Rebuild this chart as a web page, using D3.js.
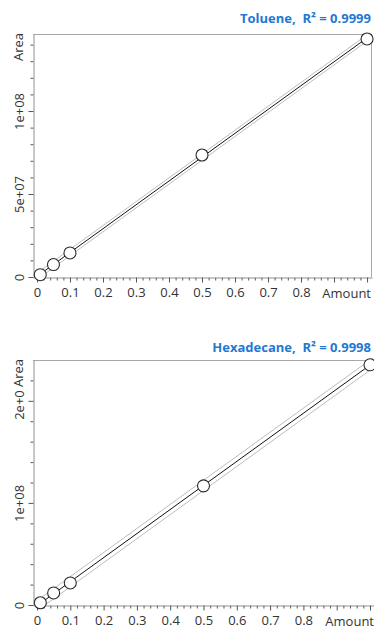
<!DOCTYPE html>
<html>
<head>
<meta charset="utf-8">
<script src="https://cdn.jsdelivr.net/npm/d3@7"></script>
<style>
  html, body { margin: 0; padding: 0; background: #fff; }
  svg { display: block; }
  text { font-family: "Open Sans", "Segoe UI", sans-serif; }
</style>
</head>
<body>
<svg id="chart" width="374" height="626"></svg>
<script>
// Calibration data: amount injected vs. peak area
const compounds = ["Toluene", "Hexadecane"];
const r2Labels = ["0.9999", "0.9998"];
const amounts = [0.01, 0.05, 0.1, 0.5, 1.0];
const tolueneArea = [1.4e6, 7.5e6, 1.45e7, 7.35e7, 1.434e8];
const hexadecaneArea = [2.2e6, 1.18e7, 2.16e7, 1.167e8, 2.353e8];
const bandHalfWidth = [1.9e6, 5.0e6];

const xTickLabels = [0, 0.1, 0.2, 0.3, 0.4, 0.5, 0.6, 0.7, 0.8];
const xTickMajor = [0, 0.1, 0.2, 0.3, 0.4, 0.5, 0.6, 0.7, 0.8, 0.9, 1.0];
const tolueneYTicks = [0, 5e7, 1e8];
const hexadecaneYTicks = [0, 1e8, 2e8];
const tolueneYMinorStep = 1e7;
const hexadecaneYMinorStep = 2e7;

const panels = [
  { name: compounds[0], r2: r2Labels[0], area: tolueneArea, band: bandHalfWidth[0],
    yTicks: tolueneYTicks, yMinor: tolueneYMinorStep, yMax: 1.464e8,
    top: 34, bottom: 277, left: 33, right: 372, titleY: 23 },
  { name: compounds[1], r2: r2Labels[1], area: hexadecaneArea, band: bandHalfWidth[1],
    yTicks: hexadecaneYTicks, yMinor: hexadecaneYMinorStep, yMax: 2.40e8,
    top: 360, bottom: 605, left: 33, right: 375, titleY: 352 }
];

const FONT = "13px";
const svg = d3.select("#chart");

function sciFormat(v) {
  if (v === 0) return "0";
  const [m, e] = v.toExponential(0).split("e");
  return m + "e" + e[0] + e.slice(1).padStart(2, "0");
}

function linearFit(xs, ys) {
  const mx = d3.mean(xs), my = d3.mean(ys);
  let sxy = 0, sxx = 0;
  xs.forEach((x, i) => { sxy += (x - mx) * (ys[i] - my); sxx += (x - mx) ** 2; });
  const slope = sxy / sxx;
  return { slope, intercept: my - slope * mx };
}

panels.forEach(p => {
  const g = svg.append("g");
  const x = d3.scaleLinear().domain([-0.012, 1.015]).range([p.left, p.right]);
  const y = d3.scaleLinear().domain([0, p.yMax]).range([p.bottom, p.top]);

  // frame: top and right edges
  g.append("path")
    .attr("d", `M${p.left},${p.top + 0.5}H${p.right - 0.5}V${p.bottom}`)
    .attr("fill", "none").attr("stroke", "#a8a8a8").attr("stroke-width", 1);

  // x minor ticks
  const xMinor = d3.range(0, 1.0001, 0.02).filter(v => !xTickMajor.some(m => Math.abs(m - v) < 1e-9));
  const xAxisMinor = g.append("g")
    .attr("transform", `translate(0,${p.bottom + 0.5})`)
    .call(d3.axisBottom(x).tickValues(xMinor).tickSize(3).tickFormat(""));
  xAxisMinor.select(".domain").remove();
  xAxisMinor.selectAll("line").attr("stroke", "#555");

  // x major ticks + labels
  const xAxis = g.append("g")
    .attr("transform", `translate(0,${p.bottom + 0.5})`)
    .call(d3.axisBottom(x).tickValues(xTickMajor).tickSize(5).tickSizeOuter(0)
      .tickFormat(d => xTickLabels.some(t => Math.abs(t - d) < 1e-9) ? d3.format("")(+d.toFixed(1)) : ""));
  xAxis.select(".domain").attr("stroke", "#909090");
  xAxis.selectAll("line").attr("stroke", "#555");
  xAxis.selectAll("text")
    .attr("font-size", FONT).attr("fill", "#333").attr("dy", "0.85em")
    .style("font-family", "'Open Sans', sans-serif");

  g.append("text")
    .attr("x", p.right - 1).attr("y", p.bottom + 21)
    .attr("text-anchor", "end").attr("font-size", FONT).attr("fill", "#333")
    .text("Amount");

  // y minor ticks
  const yMinor = d3.range(0, p.yMax, p.yMinor).filter(v => !p.yTicks.includes(v));
  const yAxisMinor = g.append("g")
    .attr("transform", `translate(${p.left + 0.5},0)`)
    .call(d3.axisLeft(y).tickValues(yMinor).tickSize(3).tickFormat(""));
  yAxisMinor.select(".domain").remove();
  yAxisMinor.selectAll("line").attr("stroke", "#555");

  // y major ticks + rotated labels
  const yAxis = g.append("g")
    .attr("transform", `translate(${p.left + 0.5},0)`)
    .call(d3.axisLeft(y).tickValues(p.yTicks).tickSize(5).tickSizeOuter(0).tickFormat(sciFormat));
  yAxis.select(".domain").attr("stroke", "#909090");
  yAxis.selectAll("line").attr("stroke", "#555");
  yAxis.selectAll("text")
    .attr("transform", "rotate(-90)")
    .attr("x", 0).attr("y", -10).attr("dy", 0)
    .attr("text-anchor", "middle")
    .attr("font-size", FONT).attr("fill", "#333")
    .style("font-family", "'Open Sans', sans-serif");

  // axis title "Area" with a white backing
  g.append("rect")
    .attr("x", 6).attr("y", p.top - 2).attr("width", 20).attr("height", 33)
    .attr("fill", "#fff");
  g.append("text")
    .attr("transform", `translate(${p.left - 10},${p.top - 1}) rotate(-90)`)
    .attr("text-anchor", "end").attr("font-size", FONT).attr("fill", "#333")
    .text("Area");

  // regression line with confidence band
  const fit = linearFit(amounts, p.area);
  const x0 = d3.min(amounts), x1 = d3.max(amounts);
  const f = v => fit.intercept + fit.slope * v;
  [-p.band, p.band].forEach(off => {
    g.append("line")
      .attr("x1", x(x0)).attr("y1", y(f(x0) + off))
      .attr("x2", x(x1)).attr("y2", y(f(x1) + off))
      .attr("stroke", "#bdbdbd").attr("stroke-width", 1);
  });
  g.append("line")
    .attr("x1", x(x0)).attr("y1", y(f(x0)))
    .attr("x2", x(x1)).attr("y2", y(f(x1)))
    .attr("stroke", "#111").attr("stroke-width", 1);

  // calibration points
  g.selectAll("circle.pt")
    .data(amounts.map((a, i) => [a, p.area[i]]))
    .join("circle")
    .attr("class", "pt")
    .attr("cx", d => x(d[0])).attr("cy", d => y(d[1]))
    .attr("r", 6)
    .attr("fill", "#fff").attr("stroke", "#2a2a2a").attr("stroke-width", 1.1);

  // title
  g.append("text")
    .attr("x", 371).attr("y", p.titleY)
    .attr("text-anchor", "end")
    .attr("font-size", "13px").attr("font-weight", "bold").attr("fill", "#1f78d2")
    .style("white-space", "pre")
    .text(`${p.name},  R² = ${p.r2}`);
});
</script>
</body>
</html>
